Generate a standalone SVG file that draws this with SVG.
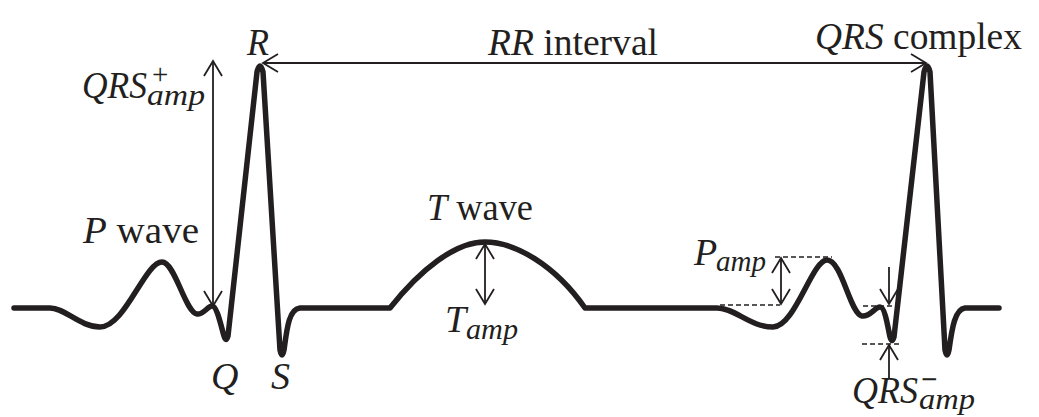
<svg xmlns="http://www.w3.org/2000/svg" width="1039" height="417" viewBox="0 0 1039 417">
<style>
.sig{fill:none;stroke:#231f20;stroke-width:5.5;stroke-linejoin:round;stroke-linecap:round}
.arr{fill:none;stroke:#231f20;stroke-width:1.8}
.dash{fill:none;stroke:#231f20;stroke-width:1.6;stroke-dasharray:5 3}
text{font-family:"Liberation Serif","Times New Roman",serif;fill:#231f20}
.it{font-style:italic}
.lbl{font-size:38px}
.m{font-size:38px;font-style:italic}
.sub{font-size:29px;font-style:italic}
.op{font-size:29px;font-style:normal}
</style>
<defs>
<marker id="ah" viewBox="-17 -11 19 22" refX="0" refY="0" markerWidth="19" markerHeight="22" markerUnits="userSpaceOnUse" orient="auto-start-reverse">
<path d="M-15,-9 L0,0 L-15,9" fill="none" stroke="#231f20" stroke-width="1.8"/>
</marker>
</defs>
<rect width="1039" height="417" fill="#fff"/>
<g id="ecg-signal">
<path class="sig" d="M14,308 L50,308 C65,308 80,327 100,327 C125,327 145,262 162,262 C175,262 185,312 197,314 C203,315 208,306 212,306 C217,306 221,326 224,336 Q226,343 228,336 L257,72 Q260,60 263,72 L280,350 Q282,360 284,350 C287,328 289,309 300,308 L390,308 C420,270 455,242 485,242 C515,242 555,265 585,308 L717,308 C735,308 750,327 773,327 C795,327 812,260 827,260 C842,260 850,314 862,316 C870,317 875,307 880,307 C885,307 888,328 890,337 Q892,344 894,337 L924,72 Q927,60 930,72 L945,350 Q947,360 949,350 C952,328 955,309 965,308 L999,308"/>
</g>
<g id="connectors">
<line id="rr-arrow" class="arr" x1="263" y1="63" x2="926" y2="63" marker-start="url(#ah)" marker-end="url(#ah)"/>
<line id="qrs-plus-arrow" class="arr" x1="213" y1="61" x2="213" y2="306" marker-start="url(#ah)" marker-end="url(#ah)"/>
<line id="t-amp-arrow" class="arr" x1="485" y1="244" x2="485" y2="304" marker-start="url(#ah)" marker-end="url(#ah)"/>
<line id="p-amp-arrow" class="arr" x1="781" y1="258" x2="781" y2="304" marker-start="url(#ah)" marker-end="url(#ah)"/>
<line id="qrs-minus-down" class="arr" x1="889" y1="267" x2="889" y2="304" marker-end="url(#ah)"/>
<line id="qrs-minus-up" class="arr" x1="889" y1="378" x2="889" y2="345" marker-end="url(#ah)"/>
<line class="dash" x1="775" y1="257" x2="832" y2="257"/>
<line class="dash" x1="720" y1="305" x2="780" y2="305"/>
<line class="dash" x1="863" y1="306" x2="899" y2="306"/>
<line class="dash" x1="862" y1="344" x2="900" y2="344"/>
</g>
<g id="label-R"><text class="lbl it" x="247" y="55" textLength="22" lengthAdjust="spacingAndGlyphs">R</text></g>
<g id="label-RR"><text class="lbl" x="488" y="55" textLength="170" lengthAdjust="spacingAndGlyphs"><tspan class="it">RR</tspan> interval</text></g>
<g id="label-QRS-complex"><text class="lbl" x="815" y="49" textLength="207" lengthAdjust="spacingAndGlyphs"><tspan class="it">QRS</tspan> complex</text></g>
<g id="label-P-wave"><text class="lbl" x="83" y="243" textLength="116" lengthAdjust="spacingAndGlyphs"><tspan class="it">P</tspan> wave</text></g>
<g id="label-T-wave"><text class="lbl" x="427" y="220" textLength="106" lengthAdjust="spacingAndGlyphs"><tspan class="it">T</tspan> wave</text></g>
<g id="label-Q"><text class="lbl it" x="211" y="389">Q</text></g>
<g id="label-S"><text class="lbl it" x="271" y="389">S</text></g>
<g id="label-QRS-plus">
<text class="m" x="82" y="98"><tspan textLength="65" lengthAdjust="spacingAndGlyphs">QRS</tspan><tspan class="op" x="152" y="84">+</tspan><tspan class="sub" x="147" y="105" textLength="58" lengthAdjust="spacingAndGlyphs">amp</tspan></text>
</g>
<g id="label-T-amp">
<text class="m" x="445" y="332">T<tspan class="sub" x="466" y="339" textLength="52" lengthAdjust="spacingAndGlyphs">amp</tspan></text>
</g>
<g id="label-P-amp">
<text class="m" x="694" y="265">P<tspan class="sub" x="716" y="271" textLength="50" lengthAdjust="spacingAndGlyphs">amp</tspan></text>
</g>
<g id="label-QRS-minus">
<text class="m" x="852" y="403"><tspan textLength="66" lengthAdjust="spacingAndGlyphs">QRS</tspan><tspan class="op" x="921" y="389" font-weight="bold">−</tspan><tspan class="sub" x="919" y="409" textLength="56" lengthAdjust="spacingAndGlyphs">amp</tspan></text>
</g>
</svg>
